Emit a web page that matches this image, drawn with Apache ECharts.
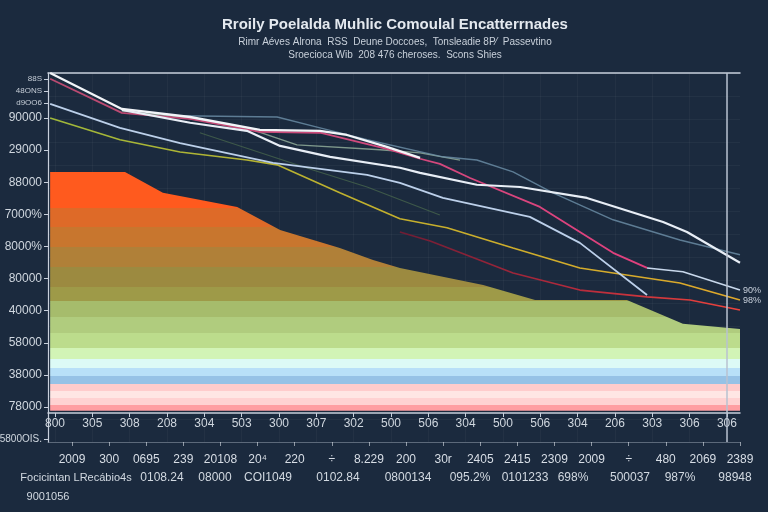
<!DOCTYPE html>
<html>
<head>
<meta charset="utf-8">
<script src="https://cdn.jsdelivr.net/npm/echarts@6/dist/echarts.min.js"></script>
<style>
html,body{margin:0;padding:0;background:#1b2a3e;}
#chart{width:768px;height:512px;}
</style>
</head>
<body>
<div id="chart"></div>
<script>
// ---------- DATA ----------
const titleText = 'Rroily Poelalda Muhlic Comoulal Encatterrnades';
const subtitleText = 'Rimr Aéves Alrona  RSS  Deune Doccoes,  Tonsleadie 8P⁄  Passevtino\nSroecioca Wib  208 476 cheroses.  Scons Shies';

const xTickValues = [0,1,2,3,4,5,6,7,8,9,10,11,12,13,14,15,16,17,18];
const xLabels = ['800','305','308','208','304','503','300','307','302','500','506','304','500','506','304','206','303','306','306'];
const xLabels2 = ['2009','300','0695','239','20108','20⁴','220','÷','8.229','200','30r','2405','2415','2309','2009','÷','480','2069','2389'];

const yTickValues = [-1.0, 0, 1, 2, 3, 4, 5, 6, 7, 8, 9, 9.47, 9.84, 10.22];
const yTickLabels = ['5800OIS.', '78000', '38000', '58000', '40000', '80000', '8000%', '7000%', '88000', '29000', '90000', 'd9OO6', '48ONS', '88S'];
const smallYLabels = ['d9OO6', '48ONS', '88S'];
const midYLabels = ['5800OIS.'];

const footerTexts = ['Focicintan LRecábio4s', '0108.24', '08000', 'COI1049', '0102.84', '0800134', '095.2%', '0101233', '698%', '500037', '987%', '98948'];
const footerNote = '9001056';

// band area (top edge)
const areaTop = [[-0.13,7.32],[1.875,7.32],[2.89,6.67],[4.88,6.23],[6.03,5.51],[7.63,4.95],[8.52,4.58],[9.24,4.33],[11.47,3.80],[12.86,3.33],[15.32,3.33],[16.82,2.59],[18.35,2.43]];

const whiteTop = [[-0.13,10.40],[1.79,9.28],[3.62,9.03],[5.49,8.63],[7.10,8.60],[7.82,8.47],[8.89,8.10],[9.78,7.76]];
const pinkLine = [[-0.13,10.22],[1.79,9.16],[3.62,8.97],[5.49,8.57],[7.10,8.54],[8.89,8.04],[9.78,7.73],[10.31,7.57],[11.12,7.13],[12.99,6.23],[14.95,4.80],[15.86,4.33]];
const paleTail = [[15.86,4.33],[16.82,4.21],[18.35,3.64]];
const steelLine = [[3.35,9.07],[5.95,9.03],[7.10,8.69],[8.36,8.32],[10.39,7.79],[11.30,7.69],[12.27,7.32],[13.34,6.67],[14.95,5.83],[16.74,5.20],[18.35,4.74]];
const sageLine = [[1.79,9.22],[3.35,9.03],[5.14,8.69],[6.48,8.16],[8.71,8.01],[9.78,7.91],[10.85,7.69]];
const brightWhite = [[1.79,9.25],[3.62,8.85],[5.14,8.60],[6.03,8.13],[7.37,7.79],[9.24,7.45],[9.78,7.29],[11.30,6.92],[12.46,6.85],[14.25,6.51],[16.29,5.76],[16.93,5.45],[18.35,4.49]];
const blueLine = [[-0.13,9.44],[1.74,8.69],[3.35,8.22],[5.84,7.60],[8.36,7.23],[9.24,6.98],[10.39,6.51],[12.72,5.92],[14.06,5.11],[15.86,3.49]];
const yellowLine = [[-0.13,9.00],[1.74,8.32],[3.35,7.94],[5.14,7.69],[5.95,7.54],[7.63,6.67],[9.24,5.86],[10.50,5.58],[12.27,4.95],[14.06,4.33],[16.74,3.86],[18.35,3.33]];
const redLine = [[9.24,5.45],[10.05,5.17],[12.27,4.17],[14.06,3.64],[15.86,3.43],[17.01,3.33],[18.35,3.02]];
const darkGreenLine = [[3.88,8.54],[6.91,7.38],[8.36,6.85],[10.31,5.98]];
const endLabelA = '90%';
const endLabelB = '98%';
const markX = 18;

// ---------- CHART ----------
const FONT = 'Liberation Sans';
const chart = echarts.init(document.getElementById('chart'), null, {renderer: 'canvas'});

const bandStops = [
  [0.000,'#ff5a1e'],[0.151,'#ff5a1e'],
  [0.151,'#de6a28'],[0.231,'#de6a28'],
  [0.231,'#c8762e'],[0.315,'#c8762e'],
  [0.315,'#b08038'],[0.399,'#b08038'],
  [0.399,'#9c8a40'],[0.483,'#9c8a40'],
  [0.483,'#9e9a48'],[0.542,'#9e9a48'],
  [0.542,'#a6bc6c'],[0.609,'#a6bc6c'],
  [0.609,'#b0cc7e'],[0.676,'#b0cc7e'],
  [0.676,'#bcdc8c'],[0.735,'#bcdc8c'],
  [0.735,'#d2f4b6'],[0.782,'#d2f4b6'],
  [0.782,'#dcfaf6'],[0.819,'#dcfaf6'],
  [0.819,'#b8e0f8'],[0.853,'#b8e0f8'],
  [0.853,'#96c2e6'],[0.887,'#96c2e6'],
  [0.887,'#ffcccc'],[0.916,'#ffcccc'],
  [0.916,'#ffe6e4'],[0.945,'#ffe6e4'],
  [0.945,'#ffd2d2'],[0.975,'#ffd2d2'],
  [0.975,'#ff9ea2'],[1.000,'#ff9ea2']
].map(s => ({offset: s[0], color: s[1]}));

function hgrad(stops){
  return new echarts.graphic.LinearGradient(0,0,1,0, stops.map(s=>({offset:s[0],color:s[1]})));
}

function lineSeries(name, data, color, width, extra){
  return Object.assign({
    name: name, type: 'line', data: data, symbol: 'none', smooth: false,
    xAxisIndex: 0, yAxisIndex: 0, clip: false,
    lineStyle: {color: color, width: width}, z: 3, silent: true
  }, extra || {});
}

const footerX = [76, 162, 215, 268, 338, 408, 470, 525, 573, 630, 680, 735];
const footerSize = [11, 12, 12, 12, 12, 12, 12, 12, 12, 12, 12, 12];
const graphics = footerTexts.map((t, i) => ({
  type: 'text', x: footerX[i], y: 478,
  style: {text: t, fill: '#d2d9e1', font: footerSize[i] + 'px ' + FONT, align: 'center', verticalAlign: 'middle'}
}));
graphics.push({type: 'text', x: 48, y: 497,
  style: {text: footerNote, fill: '#d2d9e1', font: '11px ' + FONT, align: 'center', verticalAlign: 'middle'}});

const option = {
  backgroundColor: '#1b2a3e',
  animation: false,
  title: {
    text: titleText,
    subtext: subtitleText,
    left: 390, top: 12, textAlign: 'center', itemGap: 4,
    textStyle: {color: '#e4e9ef', fontSize: 15, fontWeight: 'bold', fontFamily: FONT},
    subtextStyle: {color: '#c8d0da', fontSize: 10, lineHeight: 13, fontFamily: FONT}
  },
  grid: {left: 48, right: 28, top: 73, bottom: 70, outerBoundsMode: 'none', containLabel: false},
  xAxis: [
    {
      type: 'value', min: -0.1875, max: 18.35, position: 'bottom', offset: -29,
      axisLine: {show: true, onZero: false, lineStyle: {color: '#c8d0dc', width: 1.5}},
      axisTick: {show: true, customValues: xTickValues, length: 4, lineStyle: {color: '#c8d0dc'}},
      axisLabel: {show: true, customValues: xTickValues, margin: 5, color: '#d0d7df', fontSize: 12, fontFamily: FONT,
        formatter: v => xLabels[Math.round(v)] || ''},
      splitLine: {show: true, lineStyle: {color: 'rgba(255,255,255,0.035)'}}
    },
    {
      type: 'value', min: -0.648, max: 18.0, position: 'bottom', offset: 0,
      axisLine: {show: true, onZero: false, lineStyle: {color: 'rgba(200,210,222,0.35)', width: 1}},
      axisTick: {show: true, customValues: xTickValues, length: 4, lineStyle: {color: 'rgba(220,226,234,0.6)'}},
      axisLabel: {show: true, customValues: xTickValues, margin: 12, color: '#d8dee6', fontSize: 12, fontFamily: FONT,
        formatter: v => xLabels2[Math.round(v)] || ''},
      splitLine: {show: false}
    },
    {
      type: 'value', min: -0.1875, max: 18.35, position: 'top',
      axisLine: {show: true, onZero: false, lineStyle: {color: '#c8d0dc', width: 1.5}},
      axisTick: {show: false}, axisLabel: {show: false}, splitLine: {show: false}
    }
  ],
  yAxis: [
    {
      type: 'value', min: -1.09, max: 10.4, position: 'left',
      axisLine: {show: true, onZero: false, lineStyle: {color: '#c8d0dc', width: 1.2}},
      axisTick: {show: true, customValues: yTickValues, length: 4, lineStyle: {color: '#c8d0dc'}},
      axisLabel: {show: true, customValues: yTickValues, margin: 6, color: '#d0d7df', fontSize: 12, fontFamily: FONT,
        formatter: v => {
          const i = yTickValues.findIndex(t => Math.abs(t - v) < 1e-6);
          const s = i >= 0 ? yTickLabels[i] : '';
          if (smallYLabels.indexOf(s) >= 0) return '{s|' + s + '}';
          if (midYLabels.indexOf(s) >= 0) return '{m|' + s + '}';
          return s;
        },
        rich: {
          s: {fontSize: 8, color: '#c4ccd6', fontFamily: FONT},
          m: {fontSize: 10, color: '#d0d7df', fontFamily: FONT}
        }
      },
      splitLine: {show: false}
    },
    {
      type: 'value', min: 0, max: 16, interval: 1, position: 'right',
      axisLine: {show: false}, axisTick: {show: false}, axisLabel: {show: false},
      splitLine: {show: true, lineStyle: {color: 'rgba(255,255,255,0.04)'}}
    }
  ],
  series: [
    {
      name: 'bands', type: 'line', data: areaTop, symbol: 'none', xAxisIndex: 0, yAxisIndex: 0,
      lineStyle: {width: 0}, silent: true, z: 2,
      areaStyle: {origin: -0.12, opacity: 1,
        color: new echarts.graphic.LinearGradient(0, 0, 0, 1, bandStops)},
      markLine: {
        silent: true, symbol: 'none', label: {show: false},
        lineStyle: {color: '#b8c2d0', width: 1.5, type: 'solid'},
        data: [{xAxis: markX}]
      }
    },
    lineSeries('darkgreen', darkGreenLine, 'rgba(70,100,76,0.8)', 1.2),
    lineSeries('sage', sageLine, 'rgba(160,190,165,0.75)', 1.3),
    lineSeries('steel', steelLine, 'rgba(110,145,170,0.8)', 1.4),
    lineSeries('yellow', yellowLine, hgrad([[0,'#9fb83a'],[0.5,'#c4b02c'],[1,'#e0a82a']]), 1.6,
      {endLabel: {show: true, formatter: endLabelB, color: '#c8d0dc', fontSize: 9, distance: 3, fontFamily: FONT}}),
    lineSeries('red', redLine, hgrad([[0,'#6e1c34'],[0.5,'#b42a3c'],[1,'#f0443c']]), 1.6),
    lineSeries('blue', blueLine, '#bcd0ea', 1.8),
    lineSeries('pink', pinkLine, hgrad([[0,'#b84a70'],[0.5,'#cf4a7c'],[1,'#e2407e']]), 1.8),
    lineSeries('paleTail', paleTail, '#c8d8ec', 1.6,
      {endLabel: {show: true, formatter: endLabelA, color: '#c8d0dc', fontSize: 9, distance: 3, fontFamily: FONT}}),
    lineSeries('brightWhite', brightWhite, '#e8eef6', 2.2),
    lineSeries('whiteTop', whiteTop, '#f2f5f9', 2.3)
  ],
  graphic: graphics
};
chart.setOption(option);
</script>
</body>
</html>
